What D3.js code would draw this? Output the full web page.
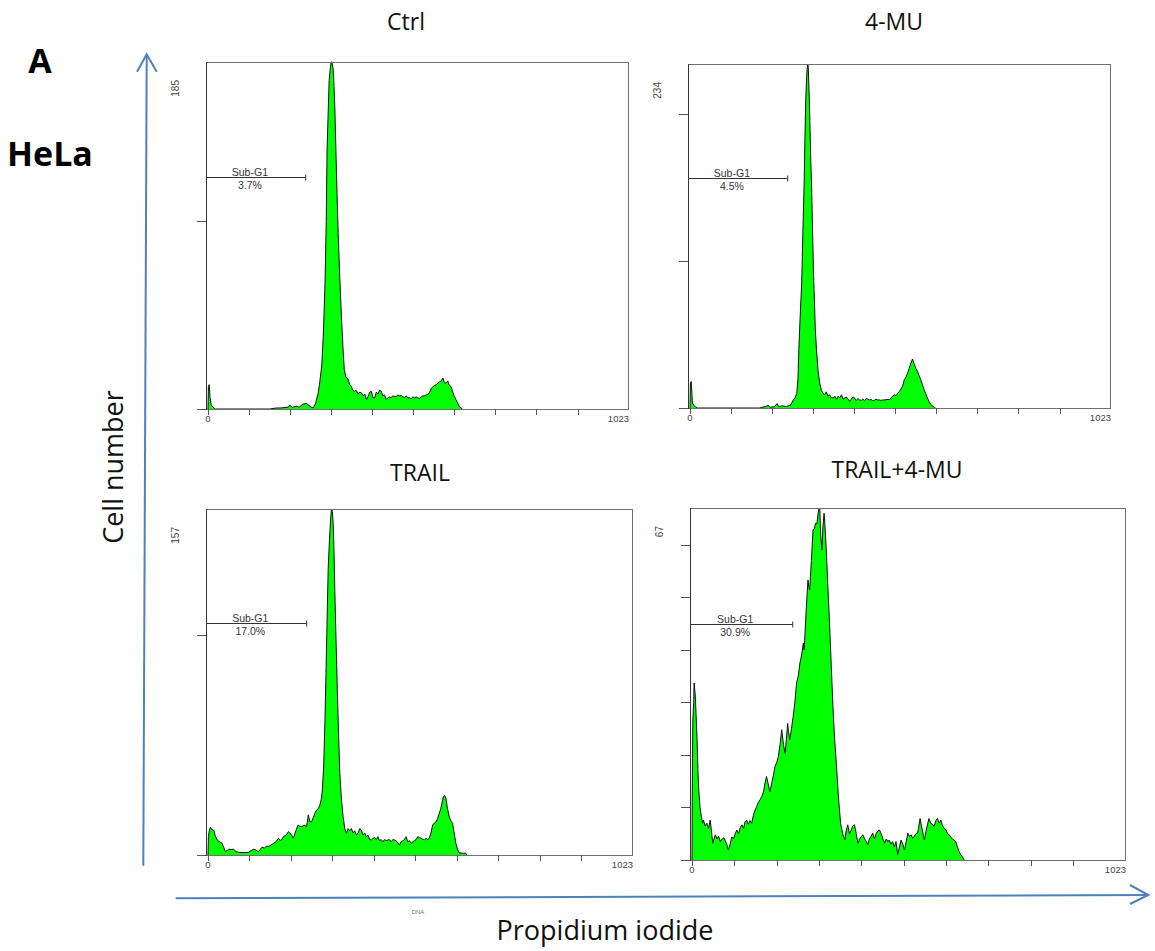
<!DOCTYPE html>
<html>
<head>
<meta charset="utf-8">
<script src="https://cdn.jsdelivr.net/npm/d3@7"></script>
<style>
  body { margin: 0; background: #fff; }
  svg { display: block; }
</style>
</head>
<body>
<svg id="chart" width="1155" height="951"></svg>
<script>
// panel titles, y max (counts), sub-G1 percentages
const panelTitles = ['Ctrl', '4-MU', 'TRAIL', 'TRAIL+4-MU'];
const yMaxCounts = [185, 234, 157, 67];
const yTickSteps = [100, 100, 100, 10];
const subG1Labels = ['3.7%', '4.5%', '17.0%', '30.9%'];
const subG1Gate = [0, 238]; // channel range of the Sub-G1 marker
const xTickValues = [0, 100, 200, 300, 400, 500, 600, 700, 800, 900];
const channelMax = 1023;

// DNA histograms: [channel, count]
const ctrlHist = [[0,0],[1,12],[3,13],[5,6],[8,2],[12,1],[18,0],[150,0],[165,0.5],[180,0.6],[195,1],[200,2],[205,0.8],[215,1.5],[222,1],[230,2.5],[240,3],[248,1.5],[256,0.5],[262,3],[268,8],[272,14],[277,23],[281,40],[285,67],[288,100],[290,138],[293,160],[295,175],[298,182],[300,185],[302,185],[305,181],[307,172],[309,160],[313,125],[317,94],[321,70],[325,49],[329,32],[332,21],[336,17],[341,16],[345,13],[349,12],[353,10],[357,9.4],[361,10],[366,8],[370,9],[374,8.5],[378,7],[382,8],[386,5],[390,6.7],[394,9],[398,9.4],[402,6],[406,5.9],[410,9],[414,8],[418,10],[422,9.4],[426,7],[430,7.5],[434,5],[438,5.9],[442,6.5],[446,6],[450,7],[454,6.7],[458,6.5],[462,7.5],[466,7],[471,7.1],[475,6.5],[479,6],[483,7],[487,5.9],[491,6],[495,5.5],[499,6.5],[503,5.9],[507,6.5],[511,6],[515,5.5],[519,6.4],[523,7],[527,7],[531,7.5],[535,7.6],[540,9],[544,11],[548,12],[552,12.5],[556,13],[560,13.8],[564,14.5],[568,15],[572,16.5],[576,14],[580,13.8],[584,15],[588,12.5],[592,12],[596,9],[600,6.7],[604,5],[608,3.2],[612,1.5],[616,0.5],[620,0]];

const muHist = [[0,0],[1,17],[3,18],[5,8],[6,3.4],[10,1.5],[14,0.7],[18,0],[170,0],[175,0.5],[185,1],[190,2],[195,0.5],[205,0.8],[212,3],[216,1],[225,1.5],[235,1],[245,2],[252,5.7],[256,7],[260,10],[263,20],[265,40],[268,60],[272,85],[275,120],[278,153],[280,185],[282,210],[284,225],[285,230],[287,234],[288,232],[290,216],[292,195],[294,170],[296,153],[299,115],[301,90],[303,74],[305,55],[308,40],[312,25],[316,17],[320,12],[324,10],[328,9],[332,11],[336,8],[340,9],[344,7],[349,6.8],[353,8],[357,6],[361,8],[365,7],[369,9],[373,6],[377,6.8],[381,7.5],[385,6],[389,4.5],[393,6],[397,7.5],[401,6.8],[405,5],[409,6.5],[413,5.5],[417,5.2],[421,6],[425,5],[429,6.5],[433,6.1],[437,5.5],[441,5.8],[445,5],[449,5.2],[453,6],[457,5.5],[461,5.5],[465,5.2],[470,5.5],[475,5.5],[480,5.8],[486,5.7],[490,7],[494,8],[498,9],[502,8.5],[506,10],[510,11.3],[514,13],[518,15],[522,19.3],[526,21],[530,23.8],[534,27],[538,30.6],[542,33.3],[546,30],[550,27],[554,25],[558,22],[562,19.3],[566,16],[570,12.5],[574,10],[578,7],[582,4.5],[586,2.5],[590,1.5],[595,0.5],[598,0]];

const trailHist = [[0,0],[1,8.3],[3,11],[6,12.6],[9,11.5],[14,11.3],[17,9],[22,6.8],[28,6],[34,5.3],[38,3.5],[42,1.5],[46,2],[50,2.6],[56,2.5],[62,2.6],[68,1.5],[74,1.2],[86,1.1],[98,1.2],[104,2],[110,2.6],[116,2.2],[122,1.5],[126,2.5],[130,3.5],[136,3.2],[142,4],[146,3.8],[152,4.5],[158,5.3],[164,6],[170,7.6],[176,6.5],[182,8.3],[188,9],[194,10.6],[200,9.5],[206,7.6],[212,11],[217,13.6],[222,13],[226,12.9],[232,13.5],[238,12.9],[242,18.2],[246,15],[250,15.1],[254,17],[258,19],[262,20.4],[266,21],[270,22.7],[273,25],[276,29.5],[279,40],[282,59.8],[285,85],[288,112.7],[290,130],[293,143],[296,153],[298,157],[300,156],[302,150.5],[304,138],[306,120],[309,97],[312,75],[315,55],[318,37],[322,25],[326,17.4],[330,12],[334,9.8],[338,12],[342,11],[346,12],[350,10],[354,11],[358,9],[362,10],[366,12],[370,11.3],[374,9],[378,10],[382,8.3],[386,9],[390,7],[394,6.8],[398,7.5],[402,8],[406,7],[410,8.3],[414,6.5],[418,7],[422,6],[426,7],[430,6.5],[434,6.8],[438,7],[442,6],[446,7],[450,6.8],[454,6.5],[458,5.5],[462,4.5],[466,6],[470,6.5],[474,7],[478,8.3],[482,6],[486,6.5],[490,5.3],[494,6],[498,6.5],[502,7],[506,8.3],[510,8],[514,7.5],[518,7.2],[522,6.8],[526,7.5],[530,7],[534,7.6],[538,10],[542,13.6],[546,14.5],[550,15],[554,16.6],[558,19],[562,21.2],[565,24],[568,26.5],[571,27],[574,25.7],[578,21],[582,17.4],[586,15.5],[590,14.4],[594,10],[598,5.3],[602,2.5],[606,1],[614,0.8],[622,0.8],[624,0]];

const comboHist = [[0,0],[0.5,11.4],[2,26.7],[4,30],[5,33.7],[7,32],[8,31],[10,27],[12,22.9],[14,17],[16,13.3],[19,10],[22,8.3],[25,7],[27,7.6],[31,6.5],[35,7],[39,6],[43,7.6],[46,5.5],[49,3.2],[52,4],[55,4.8],[59,4],[63,4.5],[67,3.5],[71,4],[75,4.2],[78,3.8],[82,3],[86,1.9],[90,3],[94,4.4],[98,4],[102,5],[106,5.7],[110,5],[114,6.2],[118,6.7],[122,6],[125,7.2],[129,7.6],[133,6.8],[137,7.5],[141,7],[145,8.5],[149,9.5],[153,10.2],[157,11],[161,11.5],[165,12.1],[169,13],[172,14.5],[176,15.9],[180,14.5],[184,13],[188,14.5],[192,16],[196,17.8],[200,18.5],[204,19.7],[208,22],[212,24.8],[216,22],[220,20.3],[223,23],[226,26],[228,24.5],[231,22.9],[235,25],[239,27.3],[243,30],[247,33.7],[251,35],[255,37.5],[259,39],[263,41.3],[265,40],[267,43.2],[270,48],[274,53.3],[276,52],[278,51.4],[282,57],[286,62.9],[289,63],[292,64.1],[295,64],[298,66],[300,67],[302,66.7],[304,62],[307,59],[309,63],[312,66],[314,64],[318,57.8],[321,52],[325,45],[329,37],[333,29.2],[337,23],[341,18.4],[346,12],[351,7],[356,5],[361,3.8],[364,5.5],[368,6.7],[372,5],[376,5.7],[380,6.5],[384,6.7],[388,5],[392,3.2],[396,4],[400,4.5],[404,4.8],[408,4],[412,3.5],[415,2.9],[419,4],[423,4.5],[427,5.1],[431,4],[435,5],[439,5.5],[443,5.7],[447,5],[451,4],[455,3.2],[459,4],[463,3.5],[466,3.8],[470,3],[474,3.5],[478,2.5],[482,3.5],[486,1],[490,2.5],[494,3.8],[498,3],[502,1.9],[506,3.5],[510,5.1],[514,4.5],[518,4.8],[521,4.1],[525,4.5],[529,5],[533,5.1],[536,6.5],[539,7.9],[542,6.5],[546,5],[549,3.8],[553,5.5],[557,7],[560,7.9],[564,7],[568,6.8],[572,6.4],[576,7.5],[580,7.9],[584,7],[588,7.6],[592,6.5],[596,6],[600,5.7],[604,5],[608,4.8],[611,4.4],[615,4],[619,3.8],[623,3.5],[627,2.5],[631,1.6],[635,1],[639,0.6],[643,0]];

const histograms = [ctrlHist, muHist, trailHist, comboHist];

// panel boxes on the page
const boxes = [
  { x0: 206, x1: 628, y0: 62, y1: 409, tx: 406, ty: 30 },
  { x0: 688, x1: 1110, y0: 64, y1: 408, tx: 894, ty: 30 },
  { x0: 206, x1: 632, y0: 509, y1: 855, tx: 420, ty: 481 },
  { x0: 690, x1: 1125, y0: 508, y1: 860, tx: 897, ty: 478 }
];

const svg = d3.select('#chart');
const smallFont = '"Liberation Sans", Arial, sans-serif';
const bigFont = '"Open Sans", "Noto Sans", sans-serif';

panelTitles.forEach(function (title, i) {
  const b = boxes[i];
  const x = d3.scaleLinear().domain([0, channelMax]).range([b.x0 + 2, b.x1]);
  const y = d3.scaleLinear().domain([0, yMaxCounts[i]]).range([b.y1, b.y0]);
  const g = svg.append('g');

  // histogram
  const area = d3.area().x(d => x(d[0])).y0(y(0)).y1(d => y(d[1]));
  const line = d3.line().x(d => x(d[0])).y(d => y(d[1]));
  g.append('path').datum(histograms[i]).attr('d', area).attr('fill', '#00ff00');
  g.append('path').datum(histograms[i]).attr('d', line)
    .attr('fill', 'none').attr('stroke', '#111').attr('stroke-width', 1);

  // frame
  g.append('rect').attr('x', b.x0 + 0.5).attr('y', b.y0 + 0.5)
    .attr('width', b.x1 - b.x0).attr('height', b.y1 - b.y0)
    .attr('fill', 'none').attr('stroke', '#707070').attr('stroke-width', 1);
  g.append('line').attr('x1', b.x0 + 0.5).attr('x2', b.x0 + 0.5)
    .attr('y1', b.y0).attr('y2', b.y1 + 1).attr('stroke', '#333');

  // y ticks
  const yTicks = d3.range(0, yMaxCounts[i], yTickSteps[i]);
  g.selectAll('.yt').data(yTicks).enter().append('line')
    .attr('x1', b.x0 - 9).attr('x2', b.x0)
    .attr('y1', d => Math.round(y(d)) + 0.5).attr('y2', d => Math.round(y(d)) + 0.5)
    .attr('stroke', '#555');
  g.append('text')
    .attr('transform', `translate(${b.x0 - 27},${b.y0 + 18}) rotate(-90)`)
    .attr('text-anchor', 'end')
    .attr('font-family', smallFont).attr('font-size', 10).attr('fill', '#444')
    .text(yMaxCounts[i]);

  // x ticks
  g.selectAll('.xt').data(xTickValues).enter().append('line')
    .attr('x1', d => Math.round(x(d)) + 0.5).attr('x2', d => Math.round(x(d)) + 0.5)
    .attr('y1', b.y1).attr('y2', b.y1 + 6)
    .attr('stroke', '#555');
  g.append('text').attr('x', x(0)).attr('y', b.y1 + 13)
    .attr('text-anchor', 'middle').attr('font-family', smallFont)
    .attr('font-size', 9.5).attr('fill', '#444').text('0');
  g.append('text').attr('x', b.x1 + 1).attr('y', b.y1 + 13)
    .attr('text-anchor', 'end').attr('font-family', smallFont)
    .attr('font-size', 9.5).attr('fill', '#444').text(channelMax);

  // Sub-G1 marker
  const gy = Math.round(y(yMaxCounts[i] * 0.67)) + 0.5;
  g.append('line').attr('x1', x(subG1Gate[0]) - 2).attr('x2', x(subG1Gate[1]))
    .attr('y1', gy).attr('y2', gy).attr('stroke', '#333');
  g.append('line').attr('x1', x(subG1Gate[1])).attr('x2', x(subG1Gate[1]))
    .attr('y1', gy - 3).attr('y2', gy + 3).attr('stroke', '#333');
  const cx = x(102);
  g.append('text').attr('x', cx).attr('y', gy - 2)
    .attr('text-anchor', 'middle').attr('font-family', smallFont)
    .attr('font-size', 10.5).attr('fill', '#333').text('Sub-G1');
  g.append('text').attr('x', cx).attr('y', gy + 11)
    .attr('text-anchor', 'middle').attr('font-family', smallFont)
    .attr('font-size', 10.5).attr('fill', '#333').text(subG1Labels[i]);

  // panel title
  svg.append('text').attr('x', b.tx).attr('y', b.ty)
    .attr('text-anchor', 'middle').attr('font-family', bigFont)
    .attr('font-size', 23).attr('fill', '#111').text(title);
});

// blue axis arrows
const blue = '#4f81bd';
svg.append('line').attr('x1', 143.3).attr('y1', 865.7).attr('x2', 146.7).attr('y2', 55)
  .attr('stroke', blue).attr('stroke-width', 2);
svg.append('path').attr('d', 'M137,71.7L146.7,54.3L156.7,71.7')
  .attr('fill', 'none').attr('stroke', blue).attr('stroke-width', 2);
svg.append('line').attr('x1', 175.7).attr('y1', 898.3).attr('x2', 1147).attr('y2', 895)
  .attr('stroke', blue).attr('stroke-width', 2);
svg.append('path').attr('d', 'M1130,885L1148.3,895L1130,904')
  .attr('fill', 'none').attr('stroke', blue).attr('stroke-width', 2);

// labels
svg.append('text').attr('x', 40).attr('y', 73).attr('text-anchor', 'middle')
  .attr('font-family', bigFont).attr('font-weight', 'bold').attr('font-size', 34)
  .attr('fill', '#000').text('A');
svg.append('text').attr('x', 50).attr('y', 166).attr('text-anchor', 'middle')
  .attr('font-family', bigFont).attr('font-weight', 'bold').attr('font-size', 34)
  .attr('fill', '#000').text('HeLa');
svg.append('text').attr('x', 605).attr('y', 940).attr('text-anchor', 'middle')
  .attr('font-family', bigFont).attr('font-size', 27).attr('fill', '#111')
  .text('Propidium iodide');
svg.append('text')
  .attr('transform', 'translate(123,467) rotate(-90)')
  .attr('text-anchor', 'middle')
  .attr('font-family', bigFont).attr('font-size', 27).attr('fill', '#111')
  .text('Cell number');
svg.append('text').attr('x', 418).attr('y', 914).attr('text-anchor', 'middle')
  .attr('font-family', smallFont).attr('font-size', 6).attr('fill', '#777').text('DNA');
</script>
</body>
</html>
